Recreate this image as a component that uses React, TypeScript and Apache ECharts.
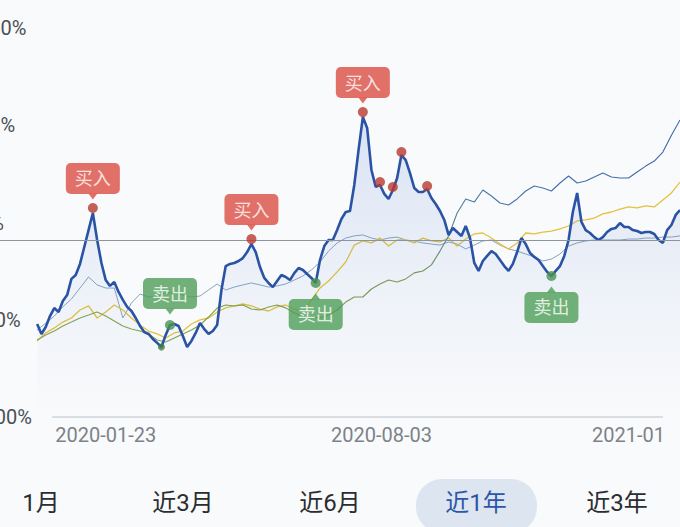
import React, { useEffect, useRef } from "react";
import * as echarts from "echarts";

// ---------- data ----------
const startDate = [2019, 11, 6]; // 2019-12-06 (first point)
const mainStepDays = 3;
const thinStepDays = 6;
const leadDays = 26; // axis starts a little before the first point
const spanDays = 450;

const fundValues = [
  -52.2, -57.3, -53.7, -48.1, -44.0, -46.0, -40.4, -37.3, -29.0, -27.0,
  -21.3, -12.6, -3.9, 4.9, -9.0, -20.8, -29.6, -32.6, -30.6, -35.7,
  -39.8, -43.4, -45.5, -49.1, -53.2, -56.3, -57.3, -59.9, -61.9, -64.0,
  -57.8, -52.7, -52.2, -53.2, -58.4, -64.0, -60.9, -56.8, -51.7, -54.8,
  -57.3, -55.8, -52.7, -34.7, -22.4, -21.3, -20.8, -19.8, -18.3, -15.2,
  -11.1, -15.2, -22.9, -28.5, -31.1, -33.2, -30.1, -27.0, -28.0, -29.6,
  -26.0, -23.4, -24.4, -26.5, -28.5, -31.1, -19.3, -12.1, -9.0, -9.0,
  -3.9, 1.8, 5.4, 5.9, 19.3, 37.3, 54.2, 48.6, 27.0, 18.3,
  19.3, 14.7, 12.1, 16.7, 22.9, 34.7, 32.1, 25.4, 17.7, 15.7,
  15.7, 17.2, 12.6, 9.5, 5.9, 1.3, -6.4, -2.8, -4.9, -6.9,
  -1.8, -8.0, -20.8, -24.9, -19.8, -17.2, -14.7, -16.2, -19.3, -22.4,
  -24.9, -21.3, -15.2, -8.0, -11.1, -15.7, -17.7, -19.3, -22.4, -25.4,
  -27.5, -24.9, -22.4, -17.2, -9.0, 5.4, 15.2, 0.3, -3.9, -5.4,
  -7.5, -9.0, -7.5, -4.9, -3.3, -2.8, -0.3, -2.3, -2.3, -3.9,
  -4.4, -5.4, -4.9, -4.9, -5.9, -9.0, -10.5, -3.9, -1.3, 3.9,
  6.4,
];

const peerValues = [
  -55.3, -51.7, -48.1, -43.4, -39.3, -33.7, -28.0, -32.1, -33.7, -33.7,
  -49.1, -41.4, -36.8, -38.3, -37.8, -36.2, -36.2, -37.3, -38.3, -37.8,
  -34.7, -31.6, -34.7, -33.2, -32.1, -31.1, -32.1, -33.2, -32.6, -31.6,
  -29.6, -27.5, -24.4, -20.3, -14.7, -10.5, -8.0, -6.9, -6.4, -8.0,
  -9.0, -8.0, -7.5, -9.0, -9.5, -10.5, -11.1, -11.6, -10.0, -11.1,
  -13.6, -11.6, -9.5, -9.0, -11.6, -13.6, -14.7, -16.2, -17.7, -19.8,
  -18.8, -16.2, -12.1, -10.5, -9.5, -9.0, -9.0, -9.0, -9.0, -8.5,
  -8.5, -8.0, -8.0, -7.5, -7.5, -6.9,
];

const benchValues = [
  -60.4, -57.8, -55.8, -53.2, -51.2, -49.1, -47.6, -46.0, -48.1, -50.6,
  -53.2, -54.8, -55.8, -57.3, -60.4, -61.4, -59.4, -57.3, -55.3, -52.7,
  -48.6, -44.0, -42.4, -42.9, -42.4, -44.5, -45.0, -43.4, -42.4, -43.9,
  -46.5, -48.1, -48.6, -49.1, -47.6, -45.0, -40.9, -38.3, -38.3, -34.2,
  -31.6, -29.6, -30.6, -29.0, -25.9, -24.9, -21.8, -14.7, -6.9, 4.9,
  12.1, 10.5, 16.7, 13.6, 10.0, 9.0, 12.1, 16.2, 18.8, 17.7,
  16.2, 20.3, 23.9, 20.3, 21.3, 23.4, 25.4, 23.4, 22.9, 22.9,
  26.0, 29.0, 31.6, 36.2, 44.9, 52.7,
];

const indexValues = [
  -60.9, -56.8, -54.2, -51.2, -49.1, -45.0, -42.9, -49.1, -46.0, -42.4,
  -45.0, -49.1, -52.7, -55.8, -57.3, -59.4, -56.8, -55.8, -52.2, -50.1,
  -49.1, -46.0, -43.9, -42.9, -41.9, -42.9, -44.5, -45.5, -43.4, -42.4,
  -44.5, -46.0, -39.8, -33.7, -30.1, -25.4, -20.3, -11.6, -9.5, -10.5,
  -8.0, -12.1, -9.0, -9.0, -10.5, -8.0, -9.5, -10.0, -8.0, -12.1,
  -8.5, -5.9, -5.4, -8.0, -11.1, -13.6, -10.5, -5.4, -5.9, -4.9,
  -4.4, -3.3, -1.8, 0.8, 1.3, 2.3, 4.4, 5.4, 6.9, 8.0,
  7.5, 8.5, 8.0, 11.6, 15.2, 20.8,
];

const refLineValue = -9;

const buyIdx = [13, 50, 76];
const buyDotIdx = [80, 83, 85, 91];
const sellIdx = [31, 65, 120];
const sellLabelPos = ["top", "bottom", "bottom"];
const sellDotIdx = [29];

const buyText = "买入";
const sellText = "卖出";

// x ticks: day offsets from startDate (2020-01-23, 2020-08-03, 2021-01-23)
const xTickDays = [48, 241, 414];
const yTickMin = -100;
const yTickMax = 100;
const yTickStep = 50;

const tabs = ["1月", "近3月", "近6月", "近1年", "近3年"];
const activeTab = 3;

// ---------- helpers ----------
const pad = (n: number) => (n < 10 ? "0" + n : "" + n);
const dayLabel = (n: number) => {
  const d = new Date(startDate[0], startDate[1], startDate[2] + Math.round(n));
  const s = d.getFullYear() + "-" + pad(d.getMonth() + 1);
  return d.getFullYear() >= 2021 ? s : s + "-" + pad(d.getDate());
};

const FONT = 'Roboto, "Noto Sans CJK SC", sans-serif';
const RED = "#db4f43";
const RED_DOT = "#b83a30";
const GREEN = "#4f9d57";
const GREEN_DOT = "#4a9350";

export default function App() {
  const ref = useRef<HTMLDivElement>(null);

  useEffect(() => {
    document.body.style.margin = "0";
    const chart = echarts.init(ref.current!, undefined, { renderer: "svg" });

    const fundData = fundValues.map((v, i) => [i * mainStepDays, v]);
    const peerData = peerValues.map((v, i) => [i * thinStepDays, v]);
    const benchData = benchValues.map((v, i) => [i * thinStepDays, v]);
    const indexData = indexValues.map((v, i) => [i * thinStepDays, v]);

    const labelBase = {
      show: true,
      color: "#fff",
      fontSize: 18,
      fontFamily: FONT,
      padding: [7, 9, 6, 9],
      borderRadius: 5,
    };

    const buyData = buyIdx.map((i) => ({
      value: fundData[i],
      label: {
        ...labelBase,
        formatter: buyText,
        position: "top",
        distance: 9,
        backgroundColor: RED,
      },
    }));
    const buyPointer = buyIdx.map((i) => ({ value: fundData[i] }));

    const sellData = sellIdx.map((i, k) => ({
      value: fundData[i],
      label: {
        ...labelBase,
        formatter: sellText,
        position: sellLabelPos[k],
        distance: 11,
        backgroundColor: GREEN,
      },
    }));
    const sellPointerTop = sellIdx
      .filter((_, k) => sellLabelPos[k] === "top")
      .map((i) => ({ value: fundData[i] }));
    const sellPointerBottom = sellIdx
      .filter((_, k) => sellLabelPos[k] === "bottom")
      .map((i) => ({ value: fundData[i] }));

    const tabX = [41, 183, 330, 476, 617];

    const option: any = {
      animation: false,
      backgroundColor: "#f9fafb",
      grid: {
        left: 0,
        right: 0,
        top: 28,
        bottom: 110,
        containLabel: false,
        outerBoundsMode: "none",
      },
      xAxis: {
        type: "value",
        min: -leadDays,
        max: spanDays,
        axisLine: { show: false },
        axisTick: { show: false },
        splitLine: { show: false },
        axisLabel: {
          customValues: xTickDays,
          formatter: (val: number) => dayLabel(val),
          margin: 8,
          color: "#7d8288",
          fontSize: 20,
          fontFamily: FONT,
        },
      },
      yAxis: {
        type: "value",
        min: yTickMin,
        max: yTickMax,
        interval: yTickStep,
        axisLine: { show: false },
        axisTick: { show: false },
        splitLine: { show: false },
        axisLabel: {
          formatter: "{value}%",
          align: "left",
          margin: 22,
          color: "#4b5056",
          fontSize: 20,
          fontFamily: FONT,
        },
      },
      series: [
        {
          name: "同类平均",
          type: "line",
          data: peerData,
          symbol: "none",
          lineStyle: { color: "#86a3c0", width: 1 },
          z: 2,
        },
        {
          name: "沪深300",
          type: "line",
          data: indexData,
          symbol: "none",
          lineStyle: { color: "#e2c23c", width: 1.3 },
          z: 2,
        },
        {
          name: "业绩基准",
          type: "line",
          data: benchData,
          symbol: "none",
          lineStyle: {
            width: 1.1,
            color: new echarts.graphic.LinearGradient(0, 0, 1, 0, [
              { offset: 0, color: "#8aa54c" },
              { offset: 0.6, color: "#7a9a45" },
              { offset: 0.67, color: "#4d77a8" },
              { offset: 1, color: "#3b66ab" },
            ]),
          },
          z: 2,
        },
        {
          name: "本基金",
          type: "line",
          data: fundData,
          symbol: "none",
          lineStyle: { color: "#2a53a5", width: 2.6 },
          areaStyle: {
            origin: "start",
            color: new echarts.graphic.LinearGradient(0, 0, 0, 1, [
              { offset: 0, color: "rgba(80,125,210,0.26)" },
              { offset: 0.6, color: "rgba(80,125,210,0.09)" },
              { offset: 1, color: "rgba(80,125,210,0.0)" },
            ]),
          },
          markLine: {
            silent: true,
            symbol: ["none", "none"],
            label: { show: false },
            lineStyle: { color: "#8d949b", width: 1, type: "solid" },
            data: [{ yAxis: refLineValue }],
          },
          z: 3,
        },
        {
          type: "scatter",
          data: buyDotIdx.map((i) => fundData[i]),
          symbolSize: 10,
          symbolOffset: [0, -3],
          itemStyle: { color: RED_DOT },
          z: 5,
        },
        {
          type: "scatter",
          data: sellDotIdx.map((i) => fundData[i]),
          symbolSize: 7,
          itemStyle: { color: "#3e7d45" },
          z: 5,
        },
        {
          type: "scatter",
          data: buyData,
          symbolSize: 10,
          symbolOffset: [0, -5],
          itemStyle: { color: RED_DOT },
          z: 6,
        },
        {
          type: "scatter",
          data: buyPointer,
          symbol: "triangle",
          symbolRotate: 180,
          symbolSize: [9, 6],
          symbolOffset: [0, -16.5],
          itemStyle: { color: RED },
          z: 6,
        },
        {
          type: "scatter",
          data: sellData,
          symbolSize: 10,
          itemStyle: { color: GREEN_DOT },
          z: 6,
        },
        {
          type: "scatter",
          data: sellPointerTop,
          symbol: "triangle",
          symbolRotate: 180,
          symbolSize: [9, 6],
          symbolOffset: [0, -13.5],
          itemStyle: { color: GREEN },
          z: 6,
        },
        {
          type: "scatter",
          data: sellPointerBottom,
          symbol: "triangle",
          symbolSize: [9, 6],
          symbolOffset: [0, 13.5],
          itemStyle: { color: GREEN },
          z: 6,
        },
      ],
      graphic: [
        {
          type: "line",
          shape: { x1: 52, y1: 417, x2: 663, y2: 417 },
          style: { stroke: "#cfd5db", lineWidth: 1.5 },
          silent: true,
        },
        {
          type: "rect",
          shape: { x: 416, y: 479, width: 121, height: 54, r: 26 },
          style: { fill: "#dde5f0" },
          silent: true,
        },
        ...tabs.map((t, i) => ({
          type: "text",
          x: tabX[i],
          y: 503,
          style: {
            text: t,
            fill: i === activeTab ? "#2c57a8" : "#2b2d30",
            fontSize: 24,
            fontFamily: FONT,
            textAlign: "center",
            textVerticalAlign: "middle",
          },
          silent: true,
        })),
      ],
    };

    chart.setOption(option);
    return () => chart.dispose();
  }, []);

  return (
    <div
      ref={ref}
      style={{ position: "absolute", left: 0, top: 0, width: 680, height: 527 }}
    />
  );
}
